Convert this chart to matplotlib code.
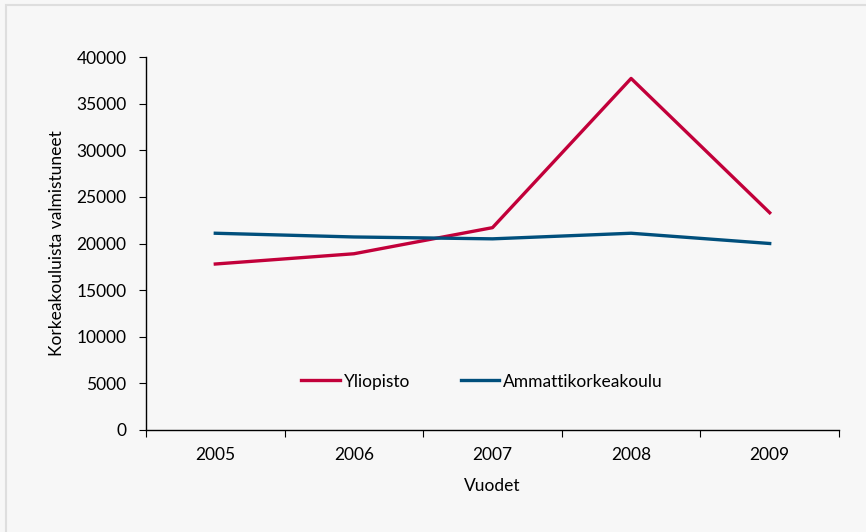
import matplotlib
matplotlib.use("Agg")
import matplotlib.pyplot as plt
from matplotlib.patches import Rectangle

years = ["2005", "2006", "2007", "2008", "2009"]
yliopisto = [17800, 18900, 21700, 37700, 23300]
amk = [21100, 20700, 20500, 21100, 20000]

plt.rcParams['font.family'] = ['Lato', 'DejaVu Sans']
fs = 12.5

fig = plt.figure(figsize=(8.66, 5.32), dpi=100, facecolor='#f7f7f7')
# light frame on the top and left only
frame = Rectangle((6/866, -0.1), 1.2, 1.1 - 5/532, transform=fig.transFigure,
                  facecolor='#f7f7f7', edgecolor='#dedede', linewidth=1.5, zorder=-10)
fig.patches.append(frame)
ax = fig.add_axes([146/866, 102/532, 693/866, 373/532])
ax.set_facecolor('none')

x = list(range(len(years)))
ax.plot(x, yliopisto, color='#c2003a', lw=2.4, label='Yliopisto')
ax.plot(x, amk, color='#004f7c', lw=2.4, label='Ammattikorkeakoulu')

ax.set_xlim(-0.5, len(years) - 0.5)
ax.set_ylim(0, 40000)
ax.set_yticks(range(0, 40001, 5000))
ax.set_xticks(x)
ax.set_xticklabels(years)
ax.set_xticks([i - 0.5 for i in range(len(years) + 1)], minor=True)
ax.tick_params(axis='x', which='major', length=0, pad=12, labelsize=fs)
ax.tick_params(axis='x', which='minor', length=5, width=0.8, direction='out')
ax.tick_params(axis='y', length=5, width=0.8, labelsize=fs, pad=9)

for s in ['top', 'right']:
    ax.spines[s].set_visible(False)
for s in ['left', 'bottom']:
    ax.spines[s].set_linewidth(1.0)

ax.set_xlabel('Vuodet', fontsize=fs, labelpad=11)
ax.set_ylabel('Korkeakouluista valmistuneet', fontsize=fs, labelpad=8)

ax.legend(loc='center', bbox_to_anchor=(0.485, 0.13), ncol=2, frameon=False,
          fontsize=fs, handlelength=2.2, handletextpad=0.25, columnspacing=2.9)

fig.savefig('out.png', dpi=100, facecolor=fig.get_facecolor())
